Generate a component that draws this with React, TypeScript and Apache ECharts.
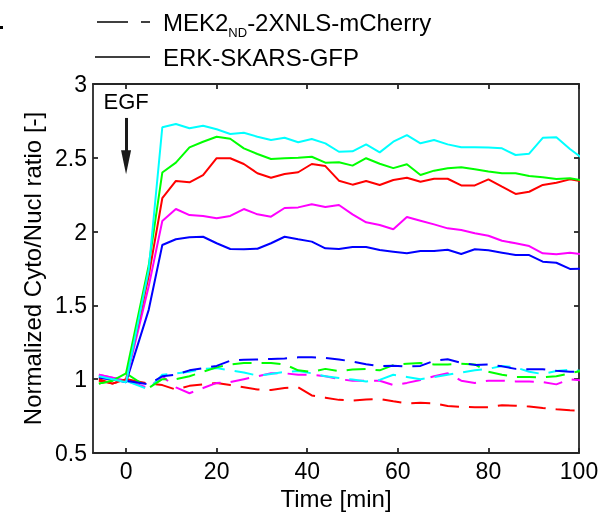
import React, { useEffect, useRef } from 'react';
import * as echarts from 'echarts';

const times = [-6, -3, 0, 5, 8, 11, 14, 17, 20, 23, 26, 29, 32, 35, 38, 41, 44, 47, 50, 53, 56, 59, 62, 65, 68, 71, 74, 77, 80, 83, 86, 89, 92, 95, 98, 101];

const cyanSolid = [1.02, 1.0, 0.98, 1.74, 2.707, 2.729, 2.7, 2.717, 2.693, 2.661, 2.67, 2.643, 2.621, 2.636, 2.605, 2.627, 2.598, 2.541, 2.544, 2.591, 2.537, 2.609, 2.654, 2.598, 2.621, 2.591, 2.571, 2.571, 2.569, 2.564, 2.519, 2.528, 2.635, 2.639, 2.56, 2.49];
const greenSolid = [0.97, 0.99, 1.04, 1.77, 2.4, 2.467, 2.571, 2.609, 2.643, 2.629, 2.564, 2.526, 2.492, 2.497, 2.501, 2.507, 2.467, 2.47, 2.447, 2.497, 2.46, 2.43, 2.456, 2.383, 2.413, 2.429, 2.436, 2.422, 2.407, 2.395, 2.395, 2.377, 2.368, 2.356, 2.361, 2.345];
const redSolid = [1.0, 0.97, 1.0, 1.7, 2.226, 2.343, 2.334, 2.383, 2.497, 2.497, 2.458, 2.395, 2.365, 2.39, 2.402, 2.458, 2.444, 2.345, 2.318, 2.343, 2.316, 2.35, 2.365, 2.338, 2.358, 2.358, 2.313, 2.313, 2.354, 2.304, 2.255, 2.27, 2.316, 2.331, 2.354, 2.34];
const magentaSolid = [1.03, 1.01, 0.99, 1.63, 2.072, 2.153, 2.112, 2.106, 2.09, 2.106, 2.153, 2.117, 2.101, 2.16, 2.164, 2.185, 2.167, 2.18, 2.117, 2.063, 2.045, 2.016, 2.099, 2.074, 2.049, 2.022, 2.011, 1.989, 1.972, 1.938, 1.921, 1.902, 1.853, 1.846, 1.857, 1.846];
const blueSolid = [1.01, 1.0, 0.98, 1.47, 1.909, 1.948, 1.961, 1.965, 1.921, 1.882, 1.88, 1.884, 1.921, 1.965, 1.948, 1.932, 1.887, 1.882, 1.896, 1.896, 1.875, 1.864, 1.853, 1.869, 1.869, 1.877, 1.848, 1.88, 1.873, 1.857, 1.841, 1.841, 1.796, 1.789, 1.747, 1.749];

const blueDashed = [1.01, 1.0, 0.99, 0.965, 1.02, 1.03, 1.06, 1.075, 1.09, 1.125, 1.132, 1.134, 1.137, 1.141, 1.148, 1.148, 1.144, 1.134, 1.119, 1.101, 1.089, 1.091, 1.085, 1.09, 1.125, 1.135, 1.11, 1.097, 1.1, 1.087, 1.07, 1.067, 1.067, 1.057, 1.05, 1.05];
const cyanDashed = [1.02, 1.0, 0.99, 0.93, 1.03, 1.04, 1.05, 1.07, 1.075, 1.06, 1.045, 1.025, 1.035, 1.05, 1.055, 1.04, 1.02, 1.008, 0.998, 0.985, 0.995, 1.03, 1.015, 1.0, 1.015, 1.03, 1.045, 1.06, 1.07, 1.09, 1.08, 1.05, 1.035, 1.055, 1.065, 1.055];
const greenDashed = [0.97, 0.99, 1.04, 0.94, 1.0, 1.0, 1.02, 1.05, 1.08, 1.1, 1.11, 1.11, 1.11, 1.1, 1.06, 1.05, 1.07, 1.055, 1.065, 1.07, 1.06, 1.095, 1.105, 1.11, 1.1, 1.1, 1.105, 1.1, 1.05, 1.03, 1.015, 1.015, 1.013, 1.02, 1.04, 1.06];
const magentaDashed = [1.03, 1.01, 0.99, 0.94, 1.02, 0.945, 0.905, 0.94, 0.975, 0.98, 1.0, 1.02, 1.04, 1.04, 1.03, 1.03, 1.02, 1.0, 0.99, 0.99, 0.99, 0.96, 0.975, 0.995, 1.02, 1.04, 0.99, 0.975, 0.99, 0.99, 0.985, 0.985, 0.98, 0.965, 1.0, 0.99];
const redDashed = [0.99, 0.97, 1.0, 0.97, 0.96, 0.93, 0.955, 0.965, 0.975, 0.96, 0.945, 0.93, 0.927, 0.94, 0.945, 0.89, 0.875, 0.86, 0.855, 0.862, 0.866, 0.85, 0.836, 0.84, 0.836, 0.818, 0.812, 0.81, 0.81, 0.824, 0.82, 0.815, 0.805, 0.796, 0.79, 0.786];

const xTicks = [0, 20, 40, 60, 80, 100];
const legendLabels = ['MEK2ND-2XNLS-mCherry', 'ERK-SKARS-GFP'];
const xTitle = 'Time [min]';
const yTitle = 'Normalized Cyto/Nucl ratio [-]';
const egfTime = 0;
const egfArrow = [2.77, 2.47];

const FONT = 'Liberation Sans, Arial, Helvetica, sans-serif';
const AX = '#262626';

const toPairs = (ys: number[]) => times.map((t, i) => [t, ys[i]]);

export default function App() {
  const ref = useRef<HTMLDivElement>(null);
  useEffect(() => {
    const chart = echarts.init(ref.current!, null, { renderer: 'svg' });
    const axisLine = { show: true, onZero: false, lineStyle: { color: AX, width: 1.8 } };
    const tick = { show: true, inside: true, length: 5, lineStyle: { color: AX, width: 1.8 } };
    const dashed = [19, 10];
    const mk = (name: string, ys: number[], color: string, dash: boolean, extra: any = {}) => ({
      type: 'line',
      name,
      data: toPairs(ys),
      showSymbol: false,
      symbol: 'none',
      clip: true,
      lineStyle: { color, width: 2, type: dash ? dashed : 'solid' },
      itemStyle: { color },
      z: dash ? 2 : 3,
      ...extra,
    });
    const option: any = {
      animation: false,
      grid: { left: 93, right: 29, top: 84, bottom: 65 },
      xAxis: [
        {
          type: 'value', min: -7.3, max: 100, position: 'bottom',
          axisLine, axisTick: { ...tick, customValues: xTicks },
          axisLabel: { customValues: xTicks, fontSize: 23, color: '#000', fontFamily: FONT, margin: 6 },
          splitLine: { show: false },
          name: xTitle, nameLocation: 'middle', nameGap: 31,
          nameTextStyle: { fontSize: 24, color: '#000', fontFamily: FONT },
        },
        {
          type: 'value', min: -7.3, max: 100, position: 'top',
          axisLine, axisTick: { ...tick, customValues: xTicks },
          axisLabel: { show: false }, splitLine: { show: false },
        },
      ],
      yAxis: [
        {
          type: 'value', min: 0.5, max: 3, interval: 0.5, position: 'left',
          axisLine, axisTick: tick,
          axisLabel: { fontSize: 23, color: '#000', fontFamily: FONT, margin: 6 },
          splitLine: { show: false },
          name: yTitle, nameLocation: 'middle', nameGap: 43,
          nameTextStyle: { fontSize: 24, color: '#000', fontFamily: FONT },
        },
        {
          type: 'value', min: 0.5, max: 3, interval: 0.5, position: 'right',
          axisLine, axisTick: tick, axisLabel: { show: false }, splitLine: { show: false },
        },
      ],
      series: [
        mk('red dashed', redDashed, '#ff0000', true),
        mk('magenta dashed', magentaDashed, '#ff00ff', true),
        mk('cyan dashed', cyanDashed, '#00ffff', true),
        mk('green dashed', greenDashed, '#00ff00', true),
        mk('blue dashed', blueDashed, '#0000ff', true),
        mk('blue solid', blueSolid, '#0000ff', false),
        mk('magenta solid', magentaSolid, '#ff00ff', false),
        mk('red solid', redSolid, '#ff0000', false),
        mk('green solid', greenSolid, '#00ff00', false),
        mk('cyan solid', cyanSolid, '#00ffff', false, {
          markLine: {
            silent: true,
            symbol: ['none', 'triangle'],
            symbolSize: [10, 24],
            lineStyle: { color: '#1a1a1a', width: 3, type: 'solid' },
            label: { show: true, position: 'start', formatter: 'EGF', fontSize: 22, color: '#000', fontFamily: FONT, distance: 5 },
            data: [[{ coord: [egfTime, egfArrow[0]] }, { coord: [egfTime, egfArrow[1]] }]],
          },
        }),
      ],
      graphic: [
        { type: 'rect', shape: { x: 0, y: 26, width: 3, height: 3 }, style: { fill: '#000' } },
        { type: 'line', shape: { x1: 97, y1: 22, x2: 128, y2: 22 }, style: { stroke: '#000', lineWidth: 1.5 } },
        { type: 'line', shape: { x1: 141, y1: 22, x2: 150, y2: 22 }, style: { stroke: '#000', lineWidth: 1.5 } },
        {
          type: 'text', x: 163, y: 22,
          style: {
            text: '{a|MEK2}{s|ND}{a|-2XNLS-mCherry}',
            verticalAlign: 'middle',
            rich: {
              a: { fontSize: 24, fontFamily: FONT, fill: '#000', lineHeight: 34, verticalAlign: 'middle' },
              s: { fontSize: 13, fontFamily: FONT, fill: '#000', lineHeight: 34, verticalAlign: 'bottom' },
            },
          },
        },
        { type: 'line', shape: { x1: 95, y1: 57, x2: 150, y2: 57 }, style: { stroke: '#000', lineWidth: 1.5 } },
        {
          type: 'text', x: 163, y: 57,
          style: { text: legendLabels[1], fontSize: 24, fontFamily: FONT, fill: '#000', verticalAlign: 'middle' },
        },
      ],
    };
    chart.setOption(option);
    return () => chart.dispose();
  }, []);
  return <div ref={ref} style={{ position: 'fixed', left: 0, top: 0, width: 608, height: 518 }} />;
}
